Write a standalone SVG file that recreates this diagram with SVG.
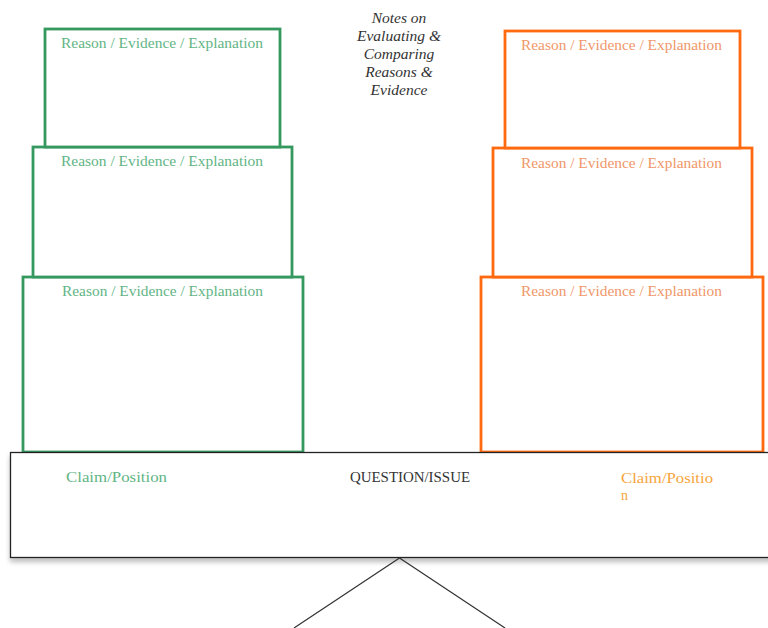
<svg xmlns="http://www.w3.org/2000/svg" width="768" height="628" viewBox="0 0 768 628">
<style>
.g{fill:#fff;stroke:#35995f;stroke-width:2.8}
.o{fill:#fff;stroke:#ff6a10;stroke-width:2.8}
.gt{font-family:"Liberation Serif",serif;font-size:14px;fill:#62b585}
.ot{font-family:"Liberation Serif",serif;font-size:14px;fill:#f0976a}
.n{font-family:"Liberation Serif",serif;font-size:15.5px;font-style:italic;fill:#333;text-anchor:middle}
.q{font-family:"Liberation Serif",serif;font-size:14px;fill:#333}
.line{stroke:#333;stroke-width:1.2;fill:none}
</style>
<defs>
<filter id="sh" x="-5%" y="-20%" width="110%" height="150%">
<feGaussianBlur in="SourceAlpha" stdDeviation="2.5"/>
<feOffset dy="4"/>
<feComponentTransfer><feFuncA type="linear" slope="0.25"/></feComponentTransfer>
<feMerge><feMergeNode/><feMergeNode in="SourceGraphic"/></feMerge>
</filter>
</defs>
<rect width="768" height="628" fill="#fff"/>
<g id="notes">
<text class="n" x="399" y="23">Notes on</text>
<text class="n" x="399" y="41">Evaluating &amp;</text>
<text class="n" x="399" y="59">Comparing</text>
<text class="n" x="399" y="77">Reasons &amp;</text>
<text class="n" x="399" y="95">Evidence</text>
</g>
<g id="green3"><rect class="g" x="23" y="277" width="280" height="175"/><text class="gt" x="62" y="296" textLength="201" lengthAdjust="spacingAndGlyphs">Reason / Evidence / Explanation</text></g>
<g id="green2"><rect class="g" x="33" y="147" width="259" height="130"/><text class="gt" x="61" y="166" textLength="202" lengthAdjust="spacingAndGlyphs">Reason / Evidence / Explanation</text></g>
<g id="green1"><rect class="g" x="45" y="29" width="235" height="118"/><text class="gt" x="61" y="48" textLength="202" lengthAdjust="spacingAndGlyphs">Reason / Evidence / Explanation</text></g>
<g id="orange3"><rect class="o" x="481" y="277" width="282" height="175"/><text class="ot" x="521" y="296" textLength="201" lengthAdjust="spacingAndGlyphs">Reason / Evidence / Explanation</text></g>
<g id="orange2"><rect class="o" x="493" y="148" width="259" height="129"/><text class="ot" x="521" y="168" textLength="201" lengthAdjust="spacingAndGlyphs">Reason / Evidence / Explanation</text></g>
<g id="orange1"><rect class="o" x="505" y="31" width="235" height="117"/><text class="ot" x="521" y="50" textLength="201" lengthAdjust="spacingAndGlyphs">Reason / Evidence / Explanation</text></g>
<g id="question">
<rect x="10.5" y="452.5" width="770" height="105" fill="#fff" stroke="#222" stroke-width="1.3" filter="url(#sh)"/>
<text class="gt" x="66" y="482" textLength="101" lengthAdjust="spacingAndGlyphs">Claim/Position</text>
<text class="q" x="350" y="482" textLength="120" lengthAdjust="spacingAndGlyphs">QUESTION/ISSUE</text>
<text x="621" y="483" font-family="Liberation Serif, serif" font-size="14" fill="#f7a43a" textLength="92" lengthAdjust="spacingAndGlyphs">Claim/Positio</text>
<text x="621" y="500" font-family="Liberation Serif, serif" font-size="14" fill="#f7a43a">n</text>
</g>
<g id="connectors">
<polyline class="line" points="294,628 399.5,558 505,628"/>
</g>
</svg>
